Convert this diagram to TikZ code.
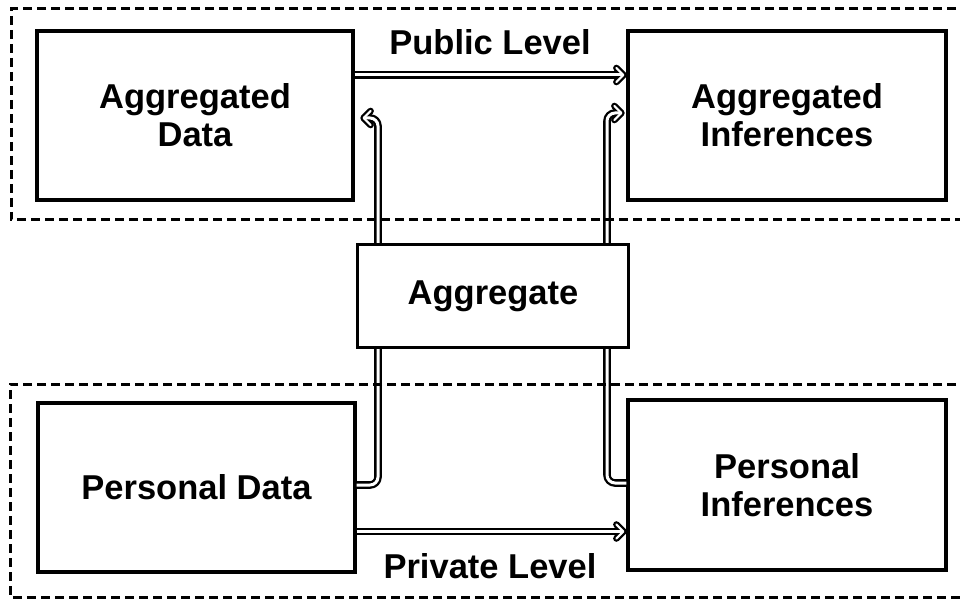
\documentclass[tikz,border=0pt]{standalone}
\usepackage{fontspec}
\setmainfont{Liberation Sans}
\begin{document}
\begin{tikzpicture}[x=1pt,y=-1pt,
  box/.style={draw,line width=3.2pt,rectangle,inner sep=0pt,align=center,
    font=\fontsize{34.5}{38}\selectfont\bfseries},
  region/.style={draw,line width=3pt,dash pattern=on 9pt off 5pt},
  blk/.style={draw=black,line width=7.6pt,rounded corners=8pt,line join=round},
  wht/.style={draw=white,line width=3pt,rounded corners=8pt,line join=round},
  chevblk/.style={draw=black,line width=6.6pt,line cap=round,line join=round},
  chevwht/.style={draw=white,line width=2.2pt,line cap=round,line join=round},
  lbl/.style={font=\fontsize{34.5}{38}\selectfont\bfseries}]
\useasboundingbox (0,0) rectangle (960,601);
\fill[white] (0,0) rectangle (960,601);
\node[box,minimum width=316pt,minimum height=169pt] (AD) at (195,115.5) {Aggregated\\Data};
\node[box,minimum width=318pt,minimum height=169pt] (AI) at (787,115.5) {Aggregated\\Inferences};
\node[box,minimum width=271pt,minimum height=103pt] (AG) at (493,296) {Aggregate};
\node[box,minimum width=317pt,minimum height=169pt] (PD) at (196.5,487.5) {Personal Data};
\node[box,minimum width=318pt,minimum height=170pt] (PI) at (787,485) {Personal\\Inferences};
\node[lbl] (PUB) at (490,42) {Public Level};
\node[lbl] (PRI) at (490,566) {Private Level};
% connector end points
\coordinate (PUBs) at ([yshift=40.5pt]AD.east);
\coordinate (PUBv) at ([xshift=-3pt]PUBs -| AI.west);
\coordinate (PRIs) at ([yshift=-44pt]PD.east);
\coordinate (PRIv) at ([xshift=-3pt]PRIs -| PI.west);
\coordinate (ADv) at ([xshift=9pt,yshift=-2.5pt]AD.east);
\coordinate (AIv) at ([xshift=-5pt,yshift=2.5pt]AI.west);
% black pass
\draw[blk] (PUBs) -- (PUBv);
\draw[blk] (PRIs) -- (PRIv);
\draw[blk] ([yshift=2.5pt]PD.east) -| ([xshift=-115pt]AG.south);
\draw[blk] ([yshift=2pt]PI.west) -| ([xshift=114pt]AG.south);
\draw[blk] ([xshift=-115pt]AG.north) |- (ADv);
\draw[blk] ([xshift=114pt]AG.north) |- (AIv);
\draw[chevblk] ([shift={(-7,-7)}]PUBv) -- (PUBv) -- ([shift={(-7,7)}]PUBv);
\draw[chevblk] ([shift={(-7,-7)}]PRIv) -- (PRIv) -- ([shift={(-7,7)}]PRIv);
\draw[chevblk] ([shift={(7,-7)}]ADv) -- (ADv) -- ([shift={(7,7)}]ADv);
\draw[chevblk] ([shift={(-7,-7)}]AIv) -- (AIv) -- ([shift={(-7,7)}]AIv);
% white pass
\draw[wht] (PUBs) -- (PUBv);
\draw[wht] (PRIs) -- (PRIv);
\draw[wht] ([yshift=2.5pt]PD.east) -| ([xshift=-115pt]AG.south);
\draw[wht] ([yshift=2pt]PI.west) -| ([xshift=114pt]AG.south);
\draw[wht] ([xshift=-115pt]AG.north) |- (ADv);
\draw[wht] ([xshift=114pt]AG.north) |- (AIv);
\draw[chevwht] ([shift={(-7,-7)}]PUBv) -- (PUBv) -- ([shift={(-7,7)}]PUBv);
\draw[chevwht] ([shift={(-7,-7)}]PRIv) -- (PRIv) -- ([shift={(-7,7)}]PRIv);
\draw[chevwht] ([shift={(7,-7)}]ADv) -- (ADv) -- ([shift={(7,7)}]ADv);
\draw[chevwht] ([shift={(-7,-7)}]AIv) -- (AIv) -- ([shift={(-7,7)}]AIv);
% dashed regions
\draw[region] (970,9) -- (11,9) -- (11,220) -- (970,220);
\draw[region] (970,384) -- (10,384) -- (10,597) -- (970,597);
\end{tikzpicture}
\end{document}
